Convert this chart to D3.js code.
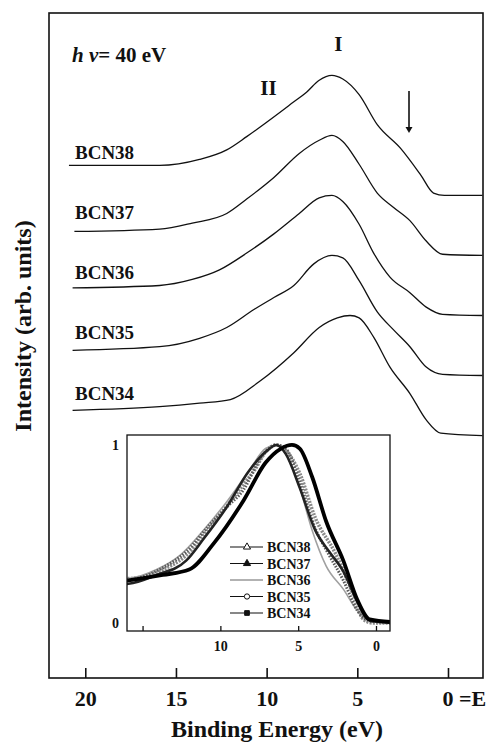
<!DOCTYPE html>
<html>
<head>
<meta charset="utf-8">
<script src="https://cdn.jsdelivr.net/npm/d3@7"></script>
<style>
  body { margin: 0; background: #fff; }
  svg { display: block; }
  text { font-family: "Liberation Serif", "DejaVu Serif", serif; font-weight: bold; fill: #111; }
</style>
</head>
<body>
<div id="chart"></div>
<script>
// sample names, top to bottom
var samples = ["BCN38", "BCN37", "BCN36", "BCN35", "BCN34"];
// vertical offset of each spectrum in the stack (arb. units)
var offsets = [2.0, 1.5, 1.0, 0.5, 0];

// spectra: [binding energy (eV), normalised intensity]
var bcn38 = [[20.9,0.25],[15.9,0.25],[13.7,0.30],[12.2,0.38],[11.1,0.49],[10.0,0.61],[8.5,0.78],[7.8,0.86],[7.1,0.96],[6.4,1.0],[5.8,0.97],[4.9,0.84],[3.9,0.59],[2.6,0.39],[1.5,0.17],[0.8,0.02],[0.2,0],[-1.9,0]];
var bcn37 = [[20.6,0.20],[15.9,0.22],[14.1,0.27],[12.2,0.35],[11.1,0.47],[9.6,0.65],[8.2,0.85],[7.1,0.96],[6.4,1.0],[5.8,0.95],[4.9,0.76],[3.9,0.52],[3.0,0.40],[2.1,0.29],[1.2,0.12],[0.3,0.01],[-1.9,0]];
var bcn36 = [[20.7,0.23],[15.9,0.25],[14.1,0.30],[12.6,0.38],[11.1,0.52],[9.6,0.68],[8.2,0.85],[7.1,0.98],[6.4,1.0],[5.8,0.95],[4.9,0.76],[4.1,0.52],[3.2,0.32],[2.1,0.19],[1.2,0.07],[0.3,0.01],[-1.9,0]];
var bcn35 = [[20.7,0.21],[15.9,0.24],[13.7,0.31],[12.2,0.40],[10.7,0.55],[9.6,0.65],[8.5,0.75],[7.4,0.93],[6.4,1.0],[5.8,0.98],[4.9,0.79],[3.9,0.53],[3.0,0.38],[2.1,0.24],[1.2,0.07],[0.3,0.01],[-1.9,0]];
var bcn34 = [[20.7,0.21],[15.9,0.24],[13.7,0.27],[12.0,0.30],[10.4,0.45],[8.5,0.69],[7.1,0.90],[6.1,0.98],[5.4,1.0],[4.9,0.98],[4.1,0.82],[3.2,0.57],[2.1,0.35],[1.2,0.13],[0.4,0.02],[-1.9,0]];
var spectra = [bcn38, bcn37, bcn36, bcn35, bcn34];

var xTicks = [20, 15, 10, 5, 0];
var insetXTicks = [15, 10, 5, 0];
var insetYTicks = [0, 1];

var W = 487, H = 744;
//main frame box
var box = { left: 49, top: 13, right: 483, bottom: 678 };
//inset frame box
var ibox = { left: 127, top: 435, right: 390, bottom: 631 };

var svg = d3.select("#chart").append("svg").attr("width", W).attr("height", H);

var x = d3.scaleLinear().domain([22, -1.93]).range([box.left, box.right]);
var y = d3.scaleLinear().domain([-2.02, 3.52]).range([box.bottom, box.top]);

var line = d3.line().curve(d3.curveMonotoneX);

//stacked spectra
spectra.forEach(function (s, i) {
  svg.append("path")
    .attr("d", line(s.map(function (d) { return [x(d[0]), y(d[1] + offsets[i])]; })))
    .attr("fill", "none").attr("stroke", "#111").attr("stroke-width", 1.3);
  svg.append("text").attr("x", 75).attr("y", y(offsets[i] + 0.3))
    .style("font-size", "19px").text(samples[i]);
});

//frame
svg.append("rect").attr("x", box.left).attr("y", box.top)
  .attr("width", box.right - box.left).attr("height", box.bottom - box.top)
  .attr("fill", "none").attr("stroke", "#111").attr("stroke-width", 1.6);

//bottom axis with inward ticks
var xAxis = d3.axisBottom(x).tickValues(xTicks).tickSizeInner(-10).tickSizeOuter(0).tickPadding(12)
  .tickFormat(function (d) { return d === 0 ? "0 =E" : d; });
var gx = svg.append("g").attr("transform", "translate(0," + box.bottom + ")").call(xAxis);
gx.select(".domain").remove();
gx.selectAll("line").attr("stroke", "#111").attr("stroke-width", 1.6);
gx.selectAll("text").style("font-size", "22px").attr("font-family", null).attr("fill", "#111");
gx.selectAll(".tick").filter(function (d) { return d === 0; }).select("text")
  .attr("text-anchor", "start").attr("dx", "-0.27em");

svg.append("text").attr("x", 277).attr("y", 737).attr("text-anchor", "middle")
  .style("font-size", "24px").text("Binding Energy (eV)");
svg.append("text").attr("transform", "translate(31,326) rotate(-90)").attr("text-anchor", "middle")
  .style("font-size", "24px").text("Intensity (arb. units)");

//photon energy label
var hv = svg.append("text").attr("x", 72).attr("y", 62).style("font-size", "21px");
hv.append("tspan").style("font-style", "italic").text("h");
hv.append("tspan").style("font-style", "italic").text(" ν");
hv.append("tspan").text("= 40 eV");

//peak labels
svg.append("text").attr("x", x(6.05)).attr("y", y(3.2)).attr("text-anchor", "middle").style("font-size", "21px").text("I");
svg.append("text").attr("x", x(9.9)).attr("y", y(2.84)).attr("text-anchor", "middle").style("font-size", "21px").text("II");

//arrow marking the edge
svg.append("line").attr("x1", x(2.15)).attr("x2", x(2.15)).attr("y1", y(2.87)).attr("y2", y(2.56))
  .attr("stroke", "#111").attr("stroke-width", 1.6);
svg.append("path")
  .attr("d", "M" + (x(2.15) - 3.5) + "," + y(2.57) + "L" + (x(2.15) + 3.5) + "," + y(2.57) + "L" + x(2.15) + "," + y(2.52) + "Z")
  .attr("fill", "#111");

// ---------- inset: normalised spectra ----------
var ix = d3.scaleLinear().domain([16.0, -0.9]).range([ibox.left, ibox.right]);
var iy = d3.scaleLinear().domain([-0.045, 1.056]).range([ibox.bottom, ibox.top]);

svg.append("rect").attr("x", ibox.left).attr("y", ibox.top)
  .attr("width", ibox.right - ibox.left).attr("height", ibox.bottom - ibox.top).attr("fill", "#fff");

svg.append("clipPath").attr("id", "iclip").append("rect")
  .attr("x", ibox.left).attr("y", ibox.top).attr("width", ibox.right - ibox.left).attr("height", ibox.bottom - ibox.top);

//dense symbols in the original, imitated by dashed strokes
var insetStyle = {
  BCN38: { stroke: "#8a8a8a", width: 3.6, dash: "2,1.2" },
  BCN37: { stroke: "#222", width: 2.6, dash: null },
  BCN36: { stroke: "#a0a0a0", width: 1.6, dash: null },
  BCN35: { stroke: "#5a5a5a", width: 3.0, dash: "1.5,1.5" },
  BCN34: { stroke: "#000", width: 3.8, dash: null }
};
var gi = svg.append("g").attr("clip-path", "url(#iclip)");
[0, 2, 3, 1, 4].forEach(function (i) {
  var st = insetStyle[samples[i]];
  gi.append("path")
    .attr("d", line(spectra[i].map(function (d) { return [ix(d[0]), iy(d[1])]; })))
    .attr("fill", "none").attr("stroke", st.stroke).attr("stroke-width", st.width)
    .attr("stroke-dasharray", st.dash);
});

svg.append("rect").attr("x", ibox.left).attr("y", ibox.top)
  .attr("width", ibox.right - ibox.left).attr("height", ibox.bottom - ibox.top)
  .attr("fill", "none").attr("stroke", "#111").attr("stroke-width", 1.3);

var ixAxis = d3.axisBottom(ix).tickValues(insetXTicks).tickSizeInner(-5).tickSizeOuter(0).tickPadding(10)
  .tickFormat(function (d) { return d === 15 ? "" : d; });
var gix = svg.append("g").attr("transform", "translate(0," + ibox.bottom + ")").call(ixAxis);
gix.select(".domain").remove();
gix.selectAll("line").attr("stroke", "#111").attr("stroke-width", 1.3);
gix.selectAll("text").style("font-size", "14px").attr("font-family", null).attr("fill", "#111");

var iyAxis = d3.axisLeft(iy).tickValues(insetYTicks).tickSize(0).tickPadding(8).tickFormat(d3.format("d"));
var giy = svg.append("g").attr("transform", "translate(" + ibox.left + ",0)").call(iyAxis);
giy.select(".domain").remove();
giy.selectAll("text").style("font-size", "14px").attr("font-family", null).attr("fill", "#111");

//inset legend
var legendSymbols = {
  BCN38: { type: d3.symbolTriangle, fill: "#fff" },
  BCN37: { type: d3.symbolTriangle, fill: "#111" },
  BCN36: null,
  BCN35: { type: d3.symbolCircle, fill: "#fff" },
  BCN34: { type: d3.symbolSquare, fill: "#111" }
};
var legend = svg.selectAll(".legend").data(samples).enter().append("g").attr("class", "legend")
  .attr("transform", function (d, i) { return "translate(230," + (547 + i * 16.5) + ")"; });
legend.append("line").attr("x1", 0).attr("x2", 33)
  .attr("stroke", function (d) { return d === "BCN36" ? "#999" : "#111"; })
  .attr("stroke-width", function (d) { return d === "BCN36" ? 1.6 : 1.2; });
legend.filter(function (d) { return legendSymbols[d]; }).append("path")
  .attr("transform", "translate(17,0)")
  .attr("d", function (d) { return d3.symbol().type(legendSymbols[d].type).size(22)(); })
  .attr("fill", function (d) { return legendSymbols[d].fill; })
  .attr("stroke", "#111").attr("stroke-width", 1);
legend.append("text").attr("x", 37).attr("y", 5).style("font-size", "14px").text(function (d) { return d; });
</script>
</body>
</html>
